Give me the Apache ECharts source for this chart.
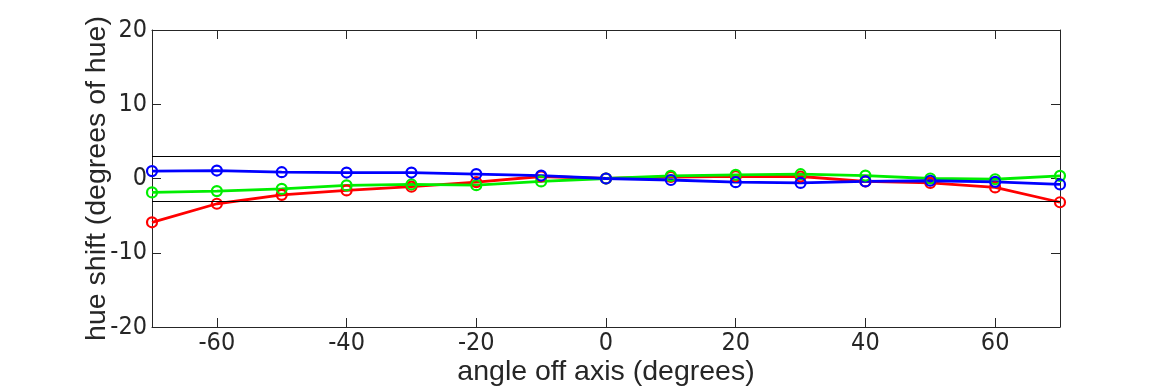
<!DOCTYPE html>
<html>
<head>
<meta charset="utf-8">
<script src="https://cdn.jsdelivr.net/npm/echarts@6/dist/echarts.min.js"></script>
<style>html,body{margin:0;padding:0;background:#fff}#c{width:1170px;height:390px}</style>
</head>
<body>
<div id="c"></div>
<script>
const angles = [-70, -60, -50, -40, -30, -20, -10, 0, 10, 20, 30, 40, 50, 60, 70];
const redShift   = [-5.9, -3.4, -2.2, -1.6, -1.1, -0.5, 0.27, 0, 0.2, 0.3, 0.27, -0.4, -0.6, -1.2, -3.2];
const greenShift = [-1.87, -1.7, -1.4, -0.93, -0.8, -0.9, -0.4, 0, 0.35, 0.5, 0.58, 0.4, 0.0, -0.1, 0.36];
const blueShift  = [1.0, 1.07, 0.85, 0.8, 0.8, 0.6, 0.4, 0, -0.2, -0.5, -0.6, -0.4, -0.3, -0.45, -0.8];
const xTicks = [-60, -40, -20, 0, 20, 40, 60];
const refLevels = [3, -3];
const xTitle = 'angle off axis (degrees)';
const yTitle = 'hue shift (degrees of hue)';

const axisColor = '#262626';
const font = 'Liberation Sans, Arial, Helvetica, sans-serif';
const tickFont = '"Liberation Sans Narrow", "DejaVu Sans Condensed", "Liberation Sans", sans-serif';
const pair = (ys) => angles.map((a, i) => [a, ys[i]]);

function xAxisCfg(top) {
  return {
    type: 'value', min: -70, max: 70, position: top ? 'top' : 'bottom',
    name: top ? '' : xTitle, nameLocation: 'middle', nameGap: 31, nameMoveOverlap: false,
    nameTextStyle: { fontFamily: font, fontSize: 28.5, color: axisColor },
    axisLine: { show: true, onZero: false, lineStyle: { color: axisColor, width: 1 } },
    axisTick: { show: true, inside: true, length: 9, customValues: xTicks, lineStyle: { color: axisColor } },
    axisLabel: { show: !top, customValues: xTicks, margin: 4, fontFamily: tickFont, fontSize: 25, color: axisColor },
    splitLine: { show: false }
  };
}
function yAxisCfg(right) {
  return {
    type: 'value', min: -20, max: 20, interval: 10, position: right ? 'right' : 'left',
    name: right ? '' : yTitle, nameLocation: 'middle', nameGap: 40, nameMoveOverlap: false,
    nameTextStyle: { fontFamily: font, fontSize: 28.5, color: axisColor },
    axisLine: { show: true, onZero: false, lineStyle: { color: axisColor, width: 1 } },
    axisTick: { show: true, inside: true, length: 9, lineStyle: { color: axisColor } },
    axisLabel: { show: !right, margin: 5, fontFamily: tickFont, fontSize: 25, color: axisColor },
    splitLine: { show: false }
  };
}
function lineSeries(name, ys, color) {
  return {
    name, type: 'line', data: pair(ys), xAxisIndex: 0, yAxisIndex: 0,
    symbol: 'circle', symbolSize: 10, showSymbol: true,
    lineStyle: { color, width: 2.8 },
    itemStyle: { color: 'rgba(0,0,0,0)', borderColor: color, borderWidth: 2.2 },
    emphasis: { disabled: true }, animation: false, z: 3
  };
}
const chart = echarts.init(document.getElementById('c'), null, { renderer: 'canvas' });
chart.setOption({
  backgroundColor: '#fff',
  animation: false,
  grid: { left: 152, right: 110, top: 30, bottom: 63, containLabel: false, outerBoundsMode: 'none' },
  xAxis: [xAxisCfg(false), xAxisCfg(true)],
  yAxis: [yAxisCfg(false), yAxisCfg(true)],
  series: [
    {
      type: 'line', data: [], xAxisIndex: 0, yAxisIndex: 0, silent: true,
      markLine: {
        silent: true, symbol: 'none', label: { show: false },
        lineStyle: { color: '#000', width: 1, type: 'solid' },
        data: refLevels.map(v => ({ yAxis: v }))
      }
    },
    lineSeries('red', redShift, '#f00'),
    lineSeries('green', greenShift, '#0e0'),
    lineSeries('blue', blueShift, '#00f')
  ]
});
</script>
</body>
</html>
